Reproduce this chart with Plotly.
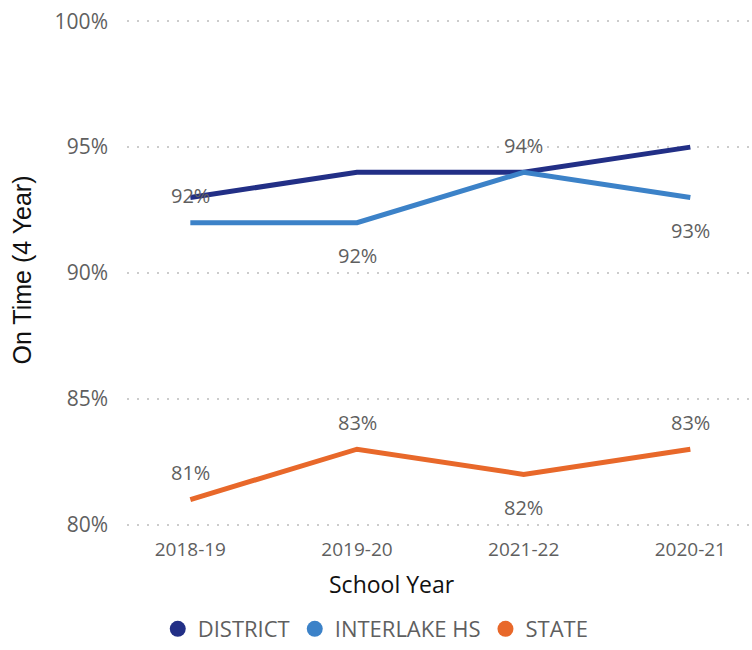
import plotly.graph_objects as go

years = ["2018-19", "2019-20", "2021-22", "2020-21"]
district = [0.93, 0.94, 0.94, 0.95]
interlake = [0.92, 0.92, 0.94, 0.93]
state = [0.81, 0.83, 0.82, 0.83]
interlake_label_pos = ["above", "below", "above", "below"]
state_label_pos = ["above", "above", "below", "above"]

colors = {"DISTRICT": "#222F86", "INTERLAKE HS": "#3C82C8", "STATE": "#E8682A"}
FONT = "Open Sans"
GRAY = "#5f5f5f"

fig = go.Figure()
series = [("DISTRICT", district), ("INTERLAKE HS", interlake), ("STATE", state)]
for name, vals in series:
    fig.add_trace(go.Scatter(
        x=years, y=vals, name=name, mode="lines", showlegend=False,
        line=dict(color=colors[name], width=5),
    ))
for name, vals in series:
    fig.add_trace(go.Scatter(
        x=[None], y=[None], name=name, mode="markers", showlegend=True,
        marker=dict(symbol="circle", size=20, color=colors[name]),
    ))

annotations = []
for vals, poss in [(interlake, interlake_label_pos), (state, state_label_pos)]:
    for x, v, p in zip(years, vals, poss):
        annotations.append(dict(
            x=x, y=v, xref="x", yref="y", text=f"{v*100:.0f}%", showarrow=False,
            yshift=27 if p == "above" else -33, yanchor="middle",
            font=dict(family=FONT, size=20, color=GRAY),
        ))

annotations.append(dict(x=0.424, y=-0.114, xref="paper", yref="paper", text="School Year",
                        showarrow=False, xanchor="center", yanchor="middle",
                        font=dict(family=FONT, size=23, color="#111111")))
annotations.append(dict(x=-0.168, y=0.505, xref="paper", yref="paper", text="On Time (4 Year)",
                        showarrow=False, textangle=-90, xanchor="center", yanchor="middle",
                        font=dict(family="Liberation Sans", size=25, color="#111111")))

fig.update_layout(
    width=752, height=650,
    margin=dict(l=127, r=0, t=20, b=123),
    paper_bgcolor="white", plot_bgcolor="white",
    showlegend=True,
    legend=dict(orientation="h", x=0.398, xanchor="center", y=-0.203, yanchor="middle",
                font=dict(family=FONT, size=22, color=GRAY),
                itemsizing="trace", itemwidth=30, tracegroupgap=0),
    annotations=annotations,
    xaxis=dict(type="category", range=[-0.38, 3.37], showgrid=False, zeroline=False,
               showline=False, ticks="", tickfont=dict(family=FONT, size=19, color=GRAY),
               ticklabelstandoff=10),
    yaxis=dict(range=[0.7995, 1.0005], tickvals=[0.80, 0.85, 0.90, 0.95, 1.00], tickformat=".0%",
               showgrid=True, gridcolor="#cccccc", gridwidth=2, griddash="2px,8px",
               zeroline=False, showline=False, ticks="",
               tickfont=dict(family=FONT, size=21, color=GRAY), ticklabelstandoff=18),
)

fig.write_html("out.html")
